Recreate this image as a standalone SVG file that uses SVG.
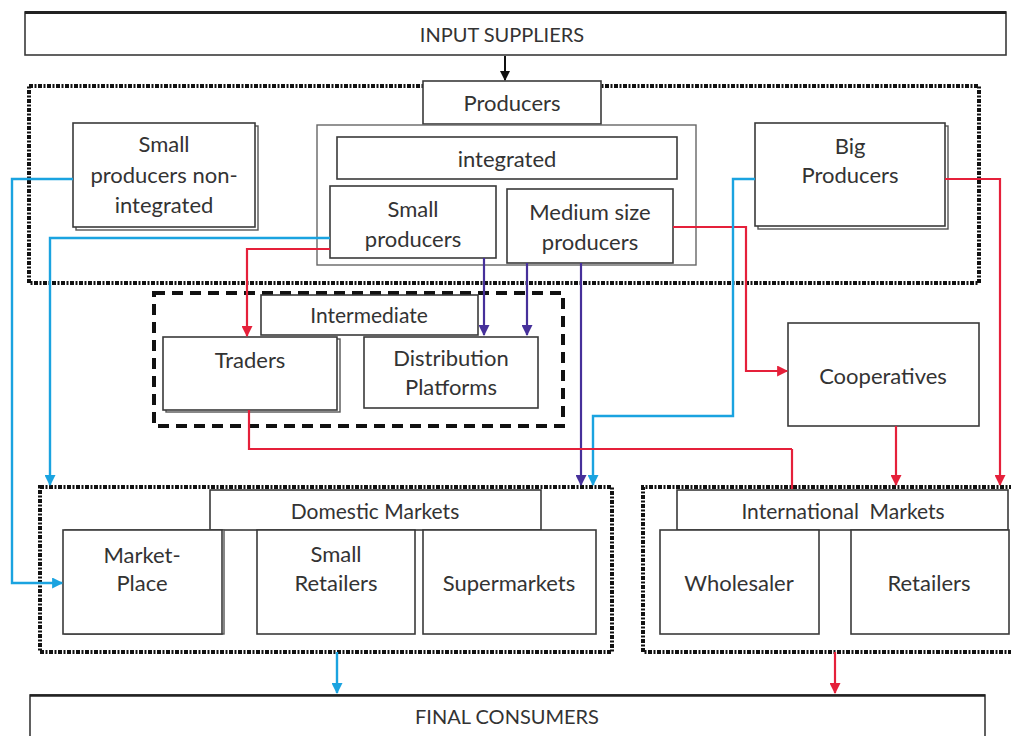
<svg xmlns="http://www.w3.org/2000/svg" width="1011" height="736" viewBox="0 0 1011 736">
<defs>
<style>
.box{fill:#fff;stroke:#3a3a3a;stroke-width:1.6}
.sh{fill:#fff;stroke:#555;stroke-width:1.4}
.gray{fill:#fff;stroke:#666;stroke-width:1.4}
.dot{fill:none;stroke:#111;stroke-width:4;stroke-dasharray:4 1.5 2 1.5}
.dash{fill:none;stroke:#111;stroke-width:4;stroke-dasharray:11 7}
text{font-family:Lato,"Liberation Sans",sans-serif;font-size:22px;fill:#333;text-anchor:middle}
.sm{font-size:21px}
.xs{font-size:20px}
.b{fill:none;stroke:#1aa3e0;stroke-width:2.4}
.r{fill:none;stroke:#e5203a;stroke-width:2.2}
.p{fill:none;stroke:#46309a;stroke-width:2.2}
</style>
<marker id="ab" viewBox="0 0 10 10" refX="9" refY="5" markerWidth="12" markerHeight="11" orient="auto" markerUnits="userSpaceOnUse"><path d="M0,0 L10,5 L0,10 z" fill="#1aa3e0"/></marker>
<marker id="ar" viewBox="0 0 10 10" refX="9" refY="5" markerWidth="12" markerHeight="11" orient="auto" markerUnits="userSpaceOnUse"><path d="M0,0 L10,5 L0,10 z" fill="#e5203a"/></marker>
<marker id="ap" viewBox="0 0 10 10" refX="9" refY="5" markerWidth="12" markerHeight="11" orient="auto" markerUnits="userSpaceOnUse"><path d="M0,0 L10,5 L0,10 z" fill="#46309a"/></marker>
<marker id="ak" viewBox="0 0 10 10" refX="9" refY="5" markerWidth="11" markerHeight="10" orient="auto" markerUnits="userSpaceOnUse"><path d="M0,0 L10,5 L0,10 z" fill="#111"/></marker>
</defs>
<rect width="1011" height="736" fill="#fff"/>

<g id="input-suppliers">
<rect class="box" x="25" y="12" width="981" height="43"/>
<line x1="25" y1="12.5" x2="1006" y2="12.5" stroke="#222" stroke-width="3"/>
<text class="xs" x="502" y="42">INPUT SUPPLIERS</text>
</g>

<g id="producers-group">
<rect class="dot" x="29" y="86" width="950" height="197"/>
</g>
<g id="producers">
<rect class="box" x="423" y="81" width="178" height="43"/>
<text x="512" y="111">Producers</text>
</g>
<g id="small-non-integrated">
<rect class="sh" x="76" y="126" width="182" height="104"/>
<rect class="box" x="73" y="123" width="182" height="104"/>
<text x="164" y="152">Small</text>
<text x="164" y="183">producers non-</text>
<text x="164" y="213">integrated</text>
</g>
<g id="integrated">
<rect class="gray" x="317" y="125" width="379" height="140"/>
<rect class="box" x="337" y="137" width="340" height="42"/>
<text x="507" y="167">integrated</text>
</g>
<g id="small-producers">
<rect class="box" x="330" y="186" width="166" height="72"/>
<text x="413" y="217">Small</text>
<text x="413" y="247">producers</text>
</g>
<g id="medium-producers">
<rect class="box" x="507" y="189" width="166" height="74"/>
<text x="590" y="220">Medium size</text>
<text x="590" y="250">producers</text>
</g>
<g id="big-producers">
<rect class="sh" x="758" y="126" width="190" height="103"/>
<rect class="box" x="755" y="123" width="190" height="103"/>
<text x="850" y="154">Big</text>
<text x="850" y="183">Producers</text>
</g>

<g id="intermediate-group">
<rect class="dash" x="154" y="293" width="409" height="133"/>
</g>
<g id="intermediate">
<rect class="box" x="261" y="295" width="217" height="40"/>
<text class="sm" x="369" y="323">Intermediate</text>
</g>
<g id="traders">
<rect class="sh" x="166" y="339" width="174" height="73"/>
<rect class="box" x="163" y="337" width="174" height="73"/>
<text x="250" y="368">Traders</text>
</g>
<g id="distribution">
<rect class="box" x="364" y="337" width="174" height="71"/>
<text x="451" y="366">Distribution</text>
<text x="451" y="395">Platforms</text>
</g>

<g id="cooperatives">
<rect class="box" x="788" y="323" width="191" height="103"/>
<text x="883" y="384">Cooperatives</text>
</g>

<g id="domestic-group">
<rect class="dot" x="40" y="487" width="572" height="165"/>
</g>
<g id="domestic-markets">
<rect class="box" x="210" y="490" width="331" height="40"/>
<text class="sm" x="375" y="519">Domestic Markets</text>
</g>
<g id="market-place">
<rect class="sh" x="65" y="530" width="159" height="104"/>
<rect class="box" x="63" y="530" width="159" height="104"/>
<text x="142" y="563">Market-</text>
<text x="142" y="591">Place</text>
</g>
<g id="small-retailers">
<rect class="box" x="257" y="530" width="158" height="104"/>
<text x="336" y="562">Small</text>
<text x="336" y="591">Retailers</text>
</g>
<g id="supermarkets">
<rect class="box" x="423" y="530" width="173" height="104"/>
<text x="509" y="591">Supermarkets</text>
</g>

<g id="international-group">
<path class="dot" d="M1013,487 H643 V652 H1013"/>
</g>
<g id="international-markets">
<rect class="box" x="677" y="490" width="331" height="40"/>
<text class="sm" x="843" y="519" xml:space="preserve">International  Markets</text>
</g>
<g id="wholesaler">
<rect class="box" x="660" y="530" width="159" height="104"/>
<text x="739" y="591">Wholesaler</text>
</g>
<g id="retailers">
<rect class="box" x="851" y="530" width="158" height="104"/>
<text x="929" y="591">Retailers</text>
</g>

<g id="final-consumers">
<rect class="box" x="30" y="695" width="955" height="50"/>
<line x1="30" y1="695.5" x2="985" y2="695.5" stroke="#222" stroke-width="2.5"/>
<text class="xs" x="507" y="724">FINAL CONSUMERS</text>
</g>

<g id="connectors">
<path d="M505,56 V80" fill="none" stroke="#111" stroke-width="2" marker-end="url(#ak)"/>
<path class="b" d="M73,179 H12 V583 H62" marker-end="url(#ab)"/>
<path class="b" d="M330,238 H50 V485" marker-end="url(#ab)"/>
<path class="r" d="M330,249 H247 V336" marker-end="url(#ar)"/>
<path class="p" d="M484,258 V335" marker-end="url(#ap)"/>
<path class="p" d="M527,263 V335" marker-end="url(#ap)"/>
<path class="p" d="M581,263 V485" stroke-width="3.2" marker-end="url(#ap)"/>
<path class="r" d="M673,227 H746 V371 H787" marker-end="url(#ar)"/>
<path class="b" d="M755,179 H733 V416 H593 V485" marker-end="url(#ab)"/>
<path class="r" d="M945,179 H1000 V485" marker-end="url(#ar)"/>
<path class="r" d="M249,410 V449 H792"/>
<path class="r" d="M792,449 V489" stroke-width="3.5"/>
<path class="r" d="M896,426 V485" marker-end="url(#ar)"/>
<path class="b" d="M337,652 V693" marker-end="url(#ab)"/>
<path class="r" d="M835,652 V693" stroke-width="3" marker-end="url(#ar)"/>
</g>
</svg>
